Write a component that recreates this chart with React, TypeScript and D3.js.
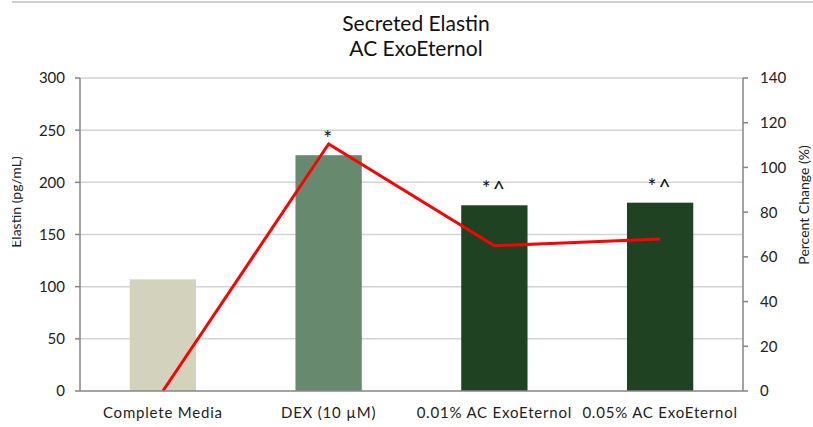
import { line, scaleBand, scaleLinear } from 'd3';

// Secreted elastin (bars, left axis) with percent change (red line, right axis).

const categories = ['Complete Media', 'DEX (10 \u00b5M)', '0.01% AC ExoEternol', '0.05% AC ExoEternol'];
const elastin = [107, 226, 178, 180.5];
const percentChange = [0, 110.5, 65, 68];
const marks = ['', '*', '*^', '*^'];
const barColors = ['#d3d2bc', '#678a6e', '#1f4223', '#1f4223'];
const leftTicks = [0, 50, 100, 150, 200, 250, 300];
const rightTicks = [0, 20, 40, 60, 80, 100, 120, 140];

const W = 813;
const H = 427;
const m = { top: 78, right: 70, bottom: 36, left: 80 };
const FONT = 'Lato, "Open Sans", sans-serif';

export default function App() {
  const x = scaleBand<string>().domain(categories).range([m.left, W - m.right]).paddingInner(0.6).paddingOuter(0.3);
  const yL = scaleLinear().domain([0, 300]).range([H - m.bottom, m.top]);
  const yR = scaleLinear().domain([0, 140]).range([H - m.bottom, m.top]);
  const cx = (c: string) => (x(c) ?? 0) + x.bandwidth() / 2;

  const pct = line<number>()
    .x((_d, i) => cx(categories[i]))
    .y((d) => yR(d));

  const x0 = m.left;
  const x1 = W - m.right;
  const y0 = H - m.bottom;

  return (
    <svg width={W} height={H} style={{ position: 'absolute', left: 0, top: 0, background: '#fff' }} fontFamily={FONT}>
      <defs>
        {/* the source image crops the left axis title */}
        <clipPath id="cropL">
          <rect x={12} y={0} width={40} height={H} />
        </clipPath>
      </defs>

      {/* frame remnant at top */}
      <line x1={12} x2={W} y1={2} y2={2} stroke="#bfbfbf" strokeWidth={1.5} />

      <text x={416} y={31} textAnchor="middle" fontSize={21} fill="#111">
        Secreted Elastin
      </text>
      <text x={416} y={56} textAnchor="middle" fontSize={21} fill="#111">
        AC ExoEternol
      </text>

      {/* gridlines */}
      {leftTicks.slice(1).map((t) => (
        <line key={t} x1={x0} x2={x1} y1={yL(t)} y2={yL(t)} stroke="#d4d4d4" strokeWidth={1.5} />
      ))}

      {/* bars */}
      {categories.map((c, i) => (
        <rect key={c} x={x(c)} y={yL(elastin[i])} width={x.bandwidth()} height={y0 - yL(elastin[i])} fill={barColors[i]} />
      ))}

      {/* significance marks */}
      {categories.map((c, i) =>
        marks[i] ? (
          <text key={c} x={cx(c)} y={yL(elastin[i]) - 9} textAnchor="middle" fontSize={21} letterSpacing={2} fill="#111">
            {marks[i]}
          </text>
        ) : null
      )}

      {/* percent change line */}
      <path d={pct(percentChange) ?? undefined} fill="none" stroke="#ff0000" strokeWidth={3} strokeLinejoin="miter" />

      {/* axes */}
      <line x1={x0} x2={x1} y1={y0} y2={y0} stroke="#868686" strokeWidth={1.5} />
      <line x1={x0} x2={x0} y1={m.top} y2={y0} stroke="#868686" strokeWidth={1.5} />
      <line x1={x1} x2={x1} y1={m.top} y2={y0} stroke="#868686" strokeWidth={1.5} />

      {leftTicks.map((t) => (
        <g key={t}>
          <line x1={x0 - 5} x2={x0} y1={yL(t)} y2={yL(t)} stroke="#868686" strokeWidth={1.5} />
          <text x={x0 - 15} y={yL(t)} dy="0.36em" textAnchor="end" fontSize={15} fill="#222">
            {t}
          </text>
        </g>
      ))}
      {rightTicks.map((t) => (
        <g key={t}>
          <line x1={x1} x2={x1 + 5} y1={yR(t)} y2={yR(t)} stroke="#868686" strokeWidth={1.5} />
          <text x={x1 + 17} y={yR(t)} dy="0.36em" textAnchor="start" fontSize={15} fill="#222">
            {t}
          </text>
        </g>
      ))}

      {categories.map((c) => (
        <text key={c} x={cx(c)} y={y0 + 27} textAnchor="middle" fontSize={15} letterSpacing={0.8} fill="#222">
          {c}
        </text>
      ))}

      <g clipPath="url(#cropL)">
        <text transform={`translate(21,202) rotate(-90)`} textAnchor="middle" fontSize={14} fill="#222">
          Elastin (pg/mL)
        </text>
      </g>
      <text transform={`translate(809,205) rotate(-90)`} textAnchor="middle" fontSize={14} fill="#222">
        Percent Change (%)
      </text>
    </svg>
  );
}
